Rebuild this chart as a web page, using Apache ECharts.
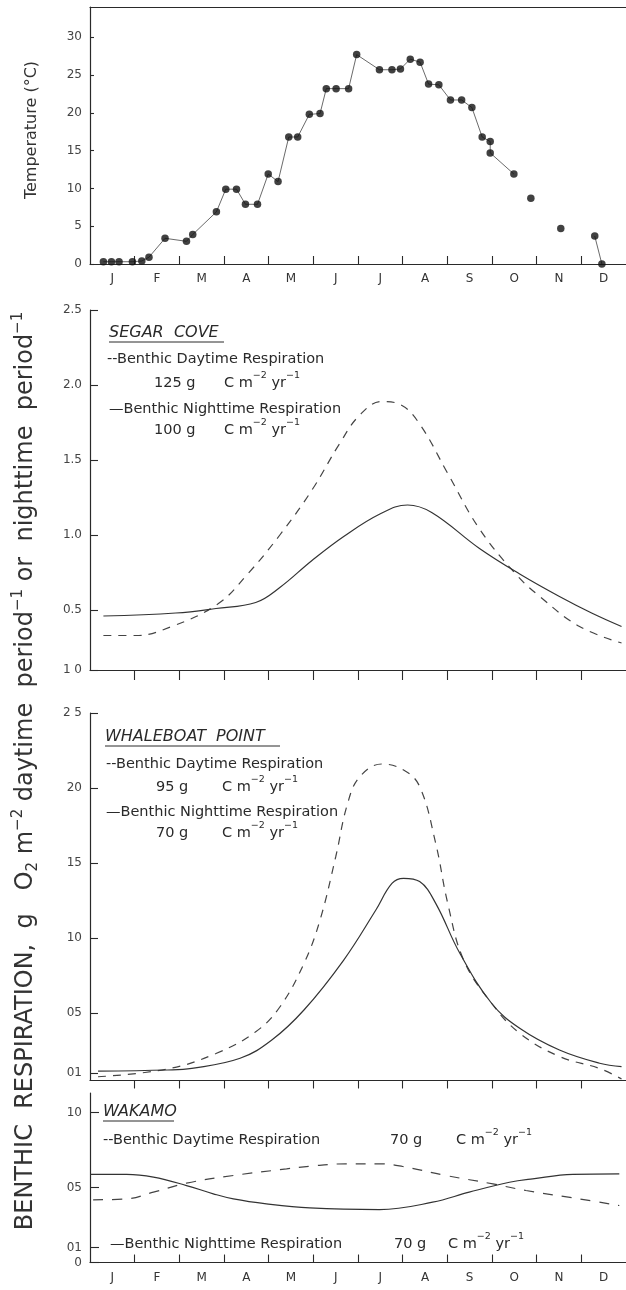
<!DOCTYPE html>
<html>
<head>
<meta charset="utf-8">
<script src="https://cdn.jsdelivr.net/npm/echarts@6/dist/echarts.min.js"></script>
<style>
html,body{margin:0;padding:0;background:#fff;}
#chart{width:626px;height:1290px;}
</style>
</head>
<body>
<div id="chart"></div>
<script>
// ---------- DATA ----------
const monthLabels = ['J','F','M','A','M','J','J','A','S','O','N','D'];

// Temperature (°C), x in months from 1 Jan
const tempMonth = [0.30,0.48,0.65,0.95,1.16,1.32,1.68,2.16,2.30,2.83,3.04,3.28,3.48,3.75,3.99,4.21,4.45,4.65,4.91,5.15,5.29,5.51,5.79,5.97,6.48,6.76,6.95,7.17,7.39,7.58,7.81,8.07,8.32,8.55,8.78,8.96,8.96,9.49,9.87,10.54,11.30,11.46];
const tempValue = [0.3,0.3,0.3,0.3,0.4,0.9,3.4,3.0,3.9,6.9,9.9,9.9,7.9,7.9,11.9,10.9,16.8,16.8,19.8,19.9,23.2,23.2,23.2,27.7,25.7,25.7,25.8,27.1,26.7,23.8,23.7,21.7,21.7,20.7,16.8,16.2,14.7,11.9,8.7,4.7,3.7,0.0];
const tempLineBreakAfter = [37,38,39];
const tempTickValues = [0,5,10,15,20,25,30];
const tempTickLabels = ['0','5','10','15','20','25','30'];

// Segar Cove
const segarDayMonth = [0.30,1.03,1.83,2.86,3.53,4.25,4.97,5.59,6.04,6.53,6.94,7.38,8.01,8.72,9.53,10.07,10.96,11.90];
const segarDayValue = [0.33,0.33,0.39,0.54,0.74,1.00,1.30,1.61,1.80,1.89,1.87,1.74,1.41,1.04,0.74,0.59,0.39,0.28];
const segarNightMonth = [0.30,1.92,2.82,3.71,4.25,4.97,5.68,6.49,7.11,7.65,8.72,9.62,10.51,11.23,11.90];
const segarNightValue = [0.46,0.48,0.51,0.55,0.65,0.83,0.99,1.14,1.20,1.15,0.91,0.74,0.59,0.48,0.39];
const segarTickValues = [0.1,0.5,1.0,1.5,2.0,2.5];
const segarTickLabels = ['1 0','0.5','1.0','1.5','2.0','2.5'];

// Whaleboat Point
const whaleDayMonth = [0.18,1.74,2.82,3.71,4.25,4.79,5.15,5.50,5.77,6.04,6.53,7.02,7.38,7.74,8.01,8.37,8.99,9.62,10.51,11.41,11.90];
const whaleDayValue = [0.075,0.127,0.23,0.375,0.54,0.83,1.12,1.54,1.90,2.075,2.16,2.12,2.01,1.63,1.23,0.85,0.565,0.365,0.21,0.13,0.06];
const whaleNightMonth = [0.18,1.74,2.28,3.36,4.07,4.79,5.68,6.40,6.76,7.02,7.38,7.74,8.28,8.99,9.62,10.51,11.41,11.90];
const whaleNightValue = [0.113,0.12,0.131,0.198,0.32,0.52,0.853,1.187,1.364,1.398,1.376,1.231,0.898,0.565,0.398,0.253,0.165,0.142];
const whaleTickValues = [0.1,0.5,1.0,1.5,2.0,2.5];
const whaleTickLabels = ['01','05','10','15','20','2 5'];

// Wakamo
const wakDayMonth = [0.07,0.82,1.42,2.16,3.21,4.40,4.92,5.73,6.48,7.00,7.97,9.02,9.76,10.96,11.85];
const wakDayValue = [0.418,0.424,0.469,0.529,0.58,0.624,0.642,0.658,0.658,0.64,0.58,0.524,0.48,0.424,0.38];
const wakNightMonth = [0.0,0.82,1.42,2.16,2.76,3.21,3.95,4.92,6.48,7.67,8.49,9.39,9.91,10.81,11.85];
const wakNightValue = [0.587,0.587,0.569,0.513,0.458,0.424,0.391,0.364,0.353,0.402,0.469,0.535,0.558,0.587,0.591];
const wakTickValues = [0,0.1,0.5,1.0];
const wakTickLabels = ['0','01','05','10'];

// ---------- BUILD ----------
const FONT = 'DejaVu Sans';
const INK = '#2a2a2a';
const zip = (xs, ys) => xs.map((x, i) => [x, ys[i]]);
const monthTicks = [1,2,3,4,5,6,7,8,9,10,11];
const monthCenters = monthLabels.map((_, i) => i + 0.5);

const tempLine = [];
tempMonth.forEach((m, i) => {
  tempLine.push([m, tempValue[i]]);
  if (tempLineBreakAfter.includes(i)) tempLine.push([m + 0.01, '-']);
});

function labelFor(values, labels) {
  return v => {
    let best = 0;
    values.forEach((t, i) => { if (Math.abs(t - v) < Math.abs(values[best] - v)) best = i; });
    return labels[best];
  };
}

function xAx(grid, opts) {
  return {
    type: 'value', gridIndex: grid, min: 0, max: 12,
    splitLine: {show: false},
    axisLine: {show: true, onZero: false, lineStyle: {color: INK, width: 1.2}},
    axisTick: {show: true, customValues: monthTicks, inside: opts.inside, length: opts.len || 8, lineStyle: {color: INK, width: 1.1}},
    axisLabel: opts.labels ? {show: true, customValues: monthCenters, formatter: v => monthLabels[Math.floor(v)], color: '#333', fontFamily: FONT, fontSize: 12, margin: 9} : {show: false}
  };
}

function yAx(grid, min, max, vals, labs, len) {
  return {
    type: 'value', gridIndex: grid, min: min, max: max,
    splitLine: {show: false},
    axisLine: {show: true, onZero: false, lineStyle: {color: INK, width: 1.2}},
    axisTick: {show: true, customValues: vals, inside: true, length: len, lineStyle: {color: INK, width: 1.1}},
    axisLabel: {show: true, customValues: vals, formatter: labelFor(vals, labs), color: '#444', fontFamily: FONT, fontSize: 12, margin: 8}
  };
}

const LEG = 14.5;
const sup = {fontSize: 9.5, lineHeight: 8, verticalAlign: 'top', fontFamily: FONT, fill: INK};
const nrm = {fontSize: LEG, lineHeight: 20, verticalAlign: 'bottom', fontFamily: FONT, fill: INK};
function txt(x, y, text, size, extra) {
  return {
    type: 'text', x: x, y: y, z: 100,
    style: Object.assign({text: text, fontSize: size || LEG, fontFamily: FONT, fill: INK, textAlign: 'left', verticalAlign: 'middle'}, extra || {})
  };
}
function unitTxt(x, y) {
  return txt(x, y, '{n|C m}{s|−2}{n| yr}{s|−1}', LEG, {rich: {n: nrm, s: sup}});
}
function uline(x1, x2, y) {
  return {type: 'line', z: 100, shape: {x1: x1, y1: y, x2: x2, y2: y}, style: {stroke: INK, lineWidth: 1}};
}

const graphic = [
  Object.assign(txt(32, 130, 'Temperature (°C)', 16, {textAlign: 'center', fill: '#333'}), {rotation: Math.PI / 2}),
  // Segar Cove
  txt(109, 333, 'SEGAR  COVE', 16, {fontStyle: 'italic'}),
  uline(109, 224, 342),
  txt(107, 359, '--Benthic Daytime Respiration'),
  txt(154, 383, '125 g'), unitTxt(224, 381),
  txt(109, 409, '—Benthic Nighttime Respiration'),
  txt(154, 430, '100 g'), unitTxt(224, 428),
  // Whaleboat Point
  txt(105, 737, 'WHALEBOAT  POINT', 16, {fontStyle: 'italic'}),
  uline(105, 280, 746),
  txt(106, 764, '--Benthic Daytime Respiration'),
  txt(156, 787, '95 g'), unitTxt(222, 785),
  txt(106, 812, '—Benthic Nighttime Respiration'),
  txt(156, 833, '70 g'), unitTxt(222, 831),
  // Wakamo
  txt(103, 1112, 'WAKAMO', 16, {fontStyle: 'italic'}),
  uline(103, 174, 1121),
  txt(103, 1140, '--Benthic Daytime Respiration'),
  txt(390, 1140, '70 g'), unitTxt(456, 1138),
  txt(110, 1244, '—Benthic Nighttime Respiration'),
  txt(394, 1244, '70 g'), unitTxt(448, 1242),
  // Big rotated axis title
  {
    type: 'text', x: 26, y: 771, rotation: Math.PI / 2, z: 100,
    style: {
      text: '{a|BENTHIC  RESPIRATION,  g   O}{b|2}{a| m}{c|−2}{a| daytime  period}{c|−1}{a| or  nighttime  period}{c|−1}',
      textAlign: 'center', verticalAlign: 'middle',
      rich: {
        a: {fontSize: 24, lineHeight: 30, verticalAlign: 'middle', fontFamily: FONT, fill: '#333'},
        b: {fontSize: 15, lineHeight: 13, verticalAlign: 'bottom', fontFamily: FONT, fill: '#333'},
        c: {fontSize: 15, lineHeight: 13, verticalAlign: 'top', fontFamily: FONT, fill: '#333'}
      }
    }
  }
];

const solid = {color: '#333', width: 1.2, type: 'solid'};
const dashed = (d) => ({color: '#444', width: 1.2, type: d});

const option = {
  animation: false,
  backgroundColor: '#fff',
  grid: [
    {left: 90, top: 7, width: 536, height: 257},
    {left: 90, top: 310, width: 536, height: 360},
    {left: 90, top: 713, width: 536, height: 367.5},
    {left: 90, top: 1093, width: 536, height: 169.5}
  ],
  xAxis: [
    xAx(0, {inside: true, len: 8, labels: true}),
    {type: 'value', gridIndex: 0, min: 0, max: 12, position: 'top', splitLine: {show: false}, axisTick: {show: false}, axisLabel: {show: false}, axisLine: {show: true, onZero: false, lineStyle: {color: INK, width: 1.2}}},
    xAx(1, {inside: false, len: 10, labels: false}),
    xAx(2, {inside: false, len: 8, labels: false}),
    xAx(3, {inside: true, len: 8, labels: true})
  ],
  yAxis: [
    yAx(0, 0, 34, tempTickValues, tempTickLabels, 4),
    yAx(1, 0.1, 2.5, segarTickValues, segarTickLabels, 8),
    yAx(2, 0.05, 2.5, whaleTickValues, whaleTickLabels, 8),
    yAx(3, 0, 1.13, wakTickValues, wakTickLabels, 9)
  ],
  graphic: graphic,
  series: [
    {type: 'line', xAxisIndex: 0, yAxisIndex: 0, data: tempLine, showSymbol: false, connectNulls: false, lineStyle: {color: '#444', width: 0.8}, z: 2},
    {type: 'scatter', xAxisIndex: 0, yAxisIndex: 0, data: zip(tempMonth, tempValue), symbol: 'circle', symbolSize: 7.5, itemStyle: {color: '#111'}, z: 3},
    {type: 'line', xAxisIndex: 2, yAxisIndex: 1, data: zip(segarDayMonth, segarDayValue), smooth: 0.4, showSymbol: false, lineStyle: dashed([8, 7])},
    {type: 'line', xAxisIndex: 2, yAxisIndex: 1, data: zip(segarNightMonth, segarNightValue), smooth: 0.4, showSymbol: false, lineStyle: solid},
    {type: 'line', xAxisIndex: 3, yAxisIndex: 2, data: zip(whaleDayMonth, whaleDayValue), smooth: 0.4, showSymbol: false, lineStyle: dashed([8, 7])},
    {type: 'line', xAxisIndex: 3, yAxisIndex: 2, data: zip(whaleNightMonth, whaleNightValue), smooth: 0.4, showSymbol: false, lineStyle: solid},
    {type: 'line', xAxisIndex: 4, yAxisIndex: 3, data: zip(wakDayMonth, wakDayValue), smooth: 0.4, showSymbol: false, lineStyle: dashed([10, 9])},
    {type: 'line', xAxisIndex: 4, yAxisIndex: 3, data: zip(wakNightMonth, wakNightValue), smooth: 0.4, showSymbol: false, lineStyle: solid}
  ]
};

const chart = echarts.init(document.getElementById('chart'), null, {renderer: 'canvas'});
chart.setOption(option);
</script>
</body>
</html>
